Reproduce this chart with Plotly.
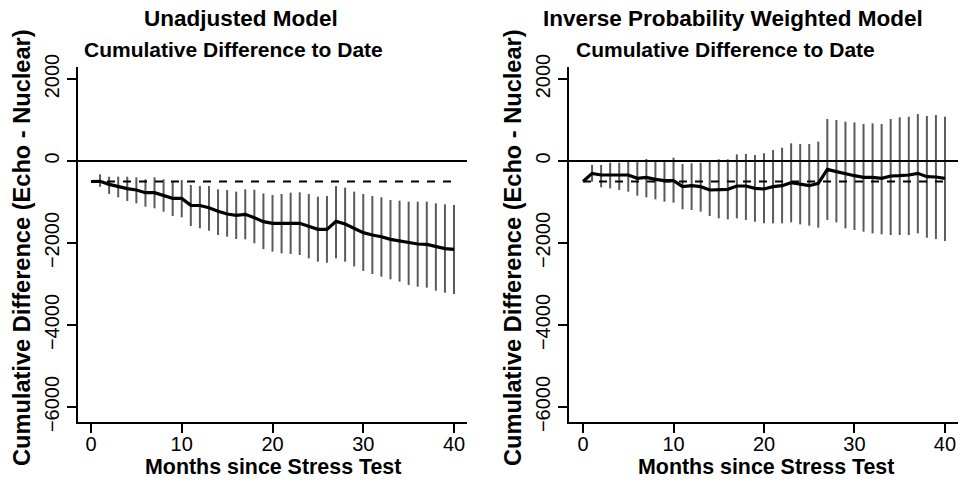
import plotly.graph_objects as go

# ---------------- data ----------------
months = list(range(0, 41))

# Unadjusted model: point estimate and 95% interval (month 0 has no interval)
unadj_est = [-500, -495, -570, -626, -675, -707, -772, -772, -846, -911, -911,
             -1081, -1085, -1138, -1228, -1293, -1325, -1301, -1382, -1480, -1520,
             -1527, -1520, -1520, -1585, -1667, -1667, -1472, -1537, -1642, -1748,
             -1805, -1846, -1911, -1951, -1992, -2024, -2033, -2089, -2138, -2154]
unadj_lo = [None, -630, -805, -886, -976, -1033, -1114, -1154, -1236, -1341, -1374,
            -1585, -1642, -1699, -1805, -1846, -1902, -1910, -2008, -2150, -2211,
            -2252, -2268, -2293, -2374, -2455, -2480, -2374, -2455, -2573, -2683,
            -2756, -2821, -2886, -2943, -3024, -3065, -3089, -3163, -3211, -3244]
unadj_hi = [None, -325, -383, -383, -383, -398, -447, -398, -447, -504, -463,
            -585, -610, -610, -691, -707, -748, -691, -700, -789, -829,
            -805, -772, -764, -805, -870, -854, -610, -650, -748, -805,
            -854, -886, -951, -967, -992, -992, -992, -1033, -1057, -1073]

# Inverse probability weighted model
ipw_est = [-500, -301, -341, -341, -341, -341, -423, -398, -447, -480, -480,
           -626, -602, -626, -707, -707, -691, -610, -610, -667, -683,
           -626, -602, -528, -561, -602, -545, -203, -260, -317, -358,
           -398, -398, -423, -366, -358, -341, -301, -382, -390, -423]
ipw_lo = [None, -504, -642, -667, -707, -748, -846, -886, -935, -992, -1016,
          -1179, -1195, -1236, -1341, -1398, -1423, -1398, -1439, -1480, -1520,
          -1520, -1520, -1496, -1545, -1577, -1626, -1439, -1496, -1642, -1683,
          -1724, -1764, -1788, -1805, -1805, -1805, -1764, -1870, -1902, -1951]
ipw_hi = [None, -98, -98, -41, -41, 24, 24, 49, 24, 8, 81,
          -73, -57, -41, 8, 41, 41, 163, 171, 146, 187,
          268, 325, 431, 415, 415, 472, 1024, 1000, 959, 943,
          902, 919, 902, 1024, 1065, 1081, 1146, 1098, 1122, 1081]

baseline = -500          # dashed reference level
ref_months = [0, 40]
x_ticks = [0, 10, 20, 30, 40]
y_ticks = [-6000, -4000, -2000, 0, 2000]

titles = ["Unadjusted Model", "Inverse Probability Weighted Model"]
subtitle = "Cumulative Difference to Date"
x_title = "Months since Stress Test"
y_title = "Cumulative Difference (Echo - Nuclear)"

# ---------------- figure ----------------
W, H = 960, 482
FONT = "Liberation Sans, Arial, Helvetica, sans-serif"


def px(x):
    return x / W


def py(y):
    return 1 - y / H


fig = go.Figure()


def interval_segments(xs, lo, hi):
    sx, sy = [], []
    for x, a, b in zip(xs, lo, hi):
        if a is None or b is None:
            continue
        sx += [x, x, None]
        sy += [a, b, None]
    return sx, sy


panels = [
    (unadj_est, unadj_lo, unadj_hi, "x", "y"),
    (ipw_est, ipw_lo, ipw_hi, "x2", "y2"),
]
for est, lo, hi, xa, ya in panels:
    sx, sy = interval_segments(months, lo, hi)
    fig.add_trace(go.Scatter(x=sx, y=sy, mode="lines", xaxis=xa, yaxis=ya,
                             line=dict(color="#5a5a5a", width=2),
                             hoverinfo="skip", showlegend=False))
    fig.add_trace(go.Scatter(x=ref_months, y=[baseline, baseline], mode="lines",
                             xaxis=xa, yaxis=ya,
                             line=dict(color="black", width=2, dash="8px,8px"),
                             showlegend=False))
    fig.add_trace(go.Scatter(x=months, y=est, mode="lines", xaxis=xa, yaxis=ya,
                             line=dict(color="black", width=3.2),
                             showlegend=False))

# zero reference line across whole plot region
for xa, ya in [("x", "y"), ("x2", "y2")]:
    fig.add_shape(type="line", xref=f"{xa} domain", yref=ya, x0=0, x1=1,
                  y0=0, y1=0, line=dict(color="black", width=2))

ydom = [py(422), py(67)]
axis_common = dict(showline=True, linecolor="black", linewidth=2,
                   ticks="outside", ticklen=9, tickwidth=2, tickcolor="black",
                   showgrid=False, zeroline=False, automargin=False,
                   tickfont=dict(family=FONT, size=20, color="black"))

fig.update_layout(
    width=W, height=H, autosize=False,
    margin=dict(l=0, r=0, t=0, b=0, pad=0),
    paper_bgcolor="white", plot_bgcolor="white",
    font=dict(family=FONT, color="black"),
    showlegend=False,
    xaxis=dict(domain=[px(78), px(467)], range=[-1.43, 41.43],
               tickvals=x_ticks, anchor="y", ticklabelstandoff=-6, **axis_common),
    xaxis2=dict(domain=[px(569), px(958)], range=[-1.55, 41.44],
                tickvals=x_ticks, anchor="y2", ticklabelstandoff=-6, **axis_common),
    yaxis=dict(domain=ydom, range=[-6366, 2293], tickvals=y_ticks,
               tickangle=-90, anchor="x", **axis_common),
    yaxis2=dict(domain=ydom, range=[-6366, 2293], tickvals=y_ticks,
                tickangle=-90, anchor="x2", **axis_common),
)

ann = []
title_pos = [(241, 233, 273, 22), (733, 725, 765.5, 513)]
for t, (tx, sxp, xtx, ytx) in zip(titles, title_pos):
    ann.append(dict(text=f"<b>{t}</b>", x=px(tx), y=py(19), xref="paper", yref="paper",
                    xanchor="center", yanchor="middle", showarrow=False,
                    font=dict(family=FONT, size=22.5, color="black")))
    ann.append(dict(text=f"<b>{subtitle}</b>", x=px(sxp), y=py(50), xref="paper", yref="paper",
                    xanchor="center", yanchor="middle", showarrow=False,
                    font=dict(family=FONT, size=21, color="black")))
    ann.append(dict(text=f"<b>{x_title}</b>", x=px(xtx), y=py(467), xref="paper", yref="paper",
                    xanchor="center", yanchor="middle", showarrow=False,
                    font=dict(family=FONT, size=21.4, color="black")))
    ann.append(dict(text=f"<b>{y_title}</b>", x=px(ytx), y=py(248), xref="paper", yref="paper",
                    xanchor="center", yanchor="middle", showarrow=False, textangle=-90,
                    font=dict(family=FONT, size=23.6, color="black")))
fig.update_layout(annotations=ann)

# remove the browser's default 8px page margin so the 960x482 figure fills the window
fig.write_html("out.html",
               config={"displayModeBar": False},
               post_script="document.body.style.margin='0';document.body.style.overflow='hidden';")
